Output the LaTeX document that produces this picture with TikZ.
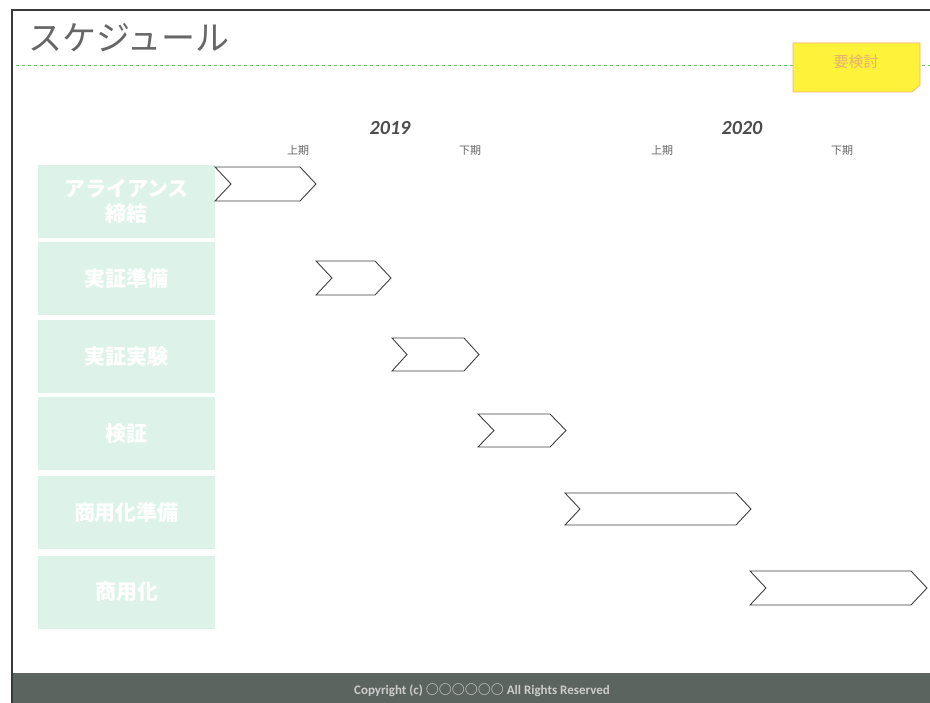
\documentclass[tikz,border=0pt]{standalone}
\usepackage{fontspec}
\setmainfont{Carlito}
\newfontfamily\jp{Noto Sans CJK JP}
\definecolor{mint}{HTML}{DDF3EA}
\definecolor{frameline}{HTML}{3A3A3A}
\definecolor{footbg}{HTML}{5C6460}
\definecolor{yel}{HTML}{FFF23A}
\definecolor{yelborder}{HTML}{F0B070}
\definecolor{yeltext}{HTML}{E8B070}
\tikzset{
  rowbox/.style={fill=mint, draw=none, minimum width=177pt, minimum height=73pt, inner sep=0pt,
                 text=white, font=\jp\bfseries\fontsize{21}{25}\selectfont, align=center},
  chev/.style={draw=black!75, line width=0.9pt, fill=white, line join=miter},
  yearlbl/.style={font=\bfseries\itshape\fontsize{20}{22}\selectfont, text=black!70},
  period/.style={font=\jp\fontsize{11}{13}\selectfont, text=black!60},
}
\newcommand{\chevron}[5]{% left, right, top, bottom, depth
  \draw[chev] (#1,#3) -- (#2-#5,#3) -- (#2,{(#3+#4)/2}) -- (#2-#5,#4) -- (#1,#4) -- (#1+#5,{(#3+#4)/2}) -- cycle;}
\begin{document}
\begin{tikzpicture}[x=1pt,y=-1pt]
\useasboundingbox (0,0) rectangle (930,703);
\fill[white] (0,0) rectangle (930,703);
% frame
\draw[frameline, line width=1.6pt] (12,703) -- (12,10) -- (930,10);
% title
\node[anchor=west, inner sep=0pt, text=black!60, font=\jp\fontsize{34}{38}\selectfont] (title) at (28,38) {スケジュール};
% dashed line
\draw[black!40!green!60!white, dashed, line width=0.6pt] (16,65) -- (930,65);
% yellow box
\fill[yel, draw=yelborder, line width=0.6pt] (793,43) -- (920,43) -- (920,85) -- (912,92) -- (793,92) -- cycle;
\node[text=yeltext, font=\jp\fontsize{15}{17}\selectfont] (kento) at (856,62) {要検討};
% years
\node[yearlbl] (y2019) at (390,128) {2019};
\node[yearlbl] (y2020) at (742,128) {2020};
\node[period] (p1) at (298,150) {上期};
\node[period] (p2) at (470,150) {下期};
\node[period] (p3) at (662,150) {上期};
\node[period] (p4) at (842,150) {下期};
% rows
\node[rowbox] (r1) at (126.5,201.5) {アライアンス\\締結};
\node[rowbox] (r2) at (126.5,279) {実証準備};
\node[rowbox] (r3) at (126.5,356.5) {実証実験};
\node[rowbox] (r4) at (126.5,434) {検証};
\node[rowbox] (r5) at (126.5,512.5) {商用化準備};
\node[rowbox] (r6) at (126.5,592) {商用化};
% chevrons
\chevron{215}{316}{167}{201}{16}
\chevron{316}{391}{261}{295}{16}
\chevron{392}{479}{338}{371}{15}
\chevron{478}{566}{414}{447}{16}
\chevron{565}{751}{493}{525}{15}
\chevron{750}{927}{571}{605}{16}
% footer
\fill[footbg] (13,673) rectangle (930,703);
\node[text=black!20, font=\bfseries\fontsize{13}{15}\selectfont] (copy) at (482,690) {Copyright (c) {\jp ○○○○○○} All Rights Reserved};
\end{tikzpicture}
\end{document}
